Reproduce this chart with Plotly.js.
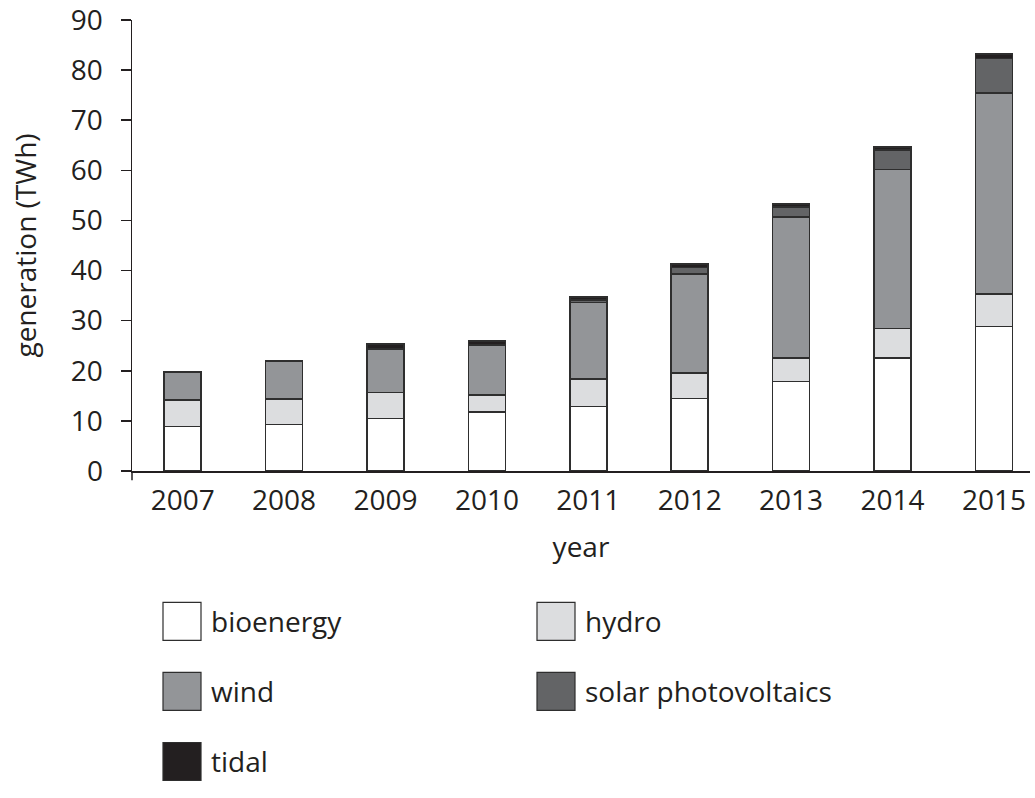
<!DOCTYPE html>
<html>
<head>
<meta charset="utf-8">
<script src="https://cdn.plot.ly/plotly-3.0.1.min.js"></script>
<style>html,body{margin:0;padding:0;background:#fff;}#chart{width:1035px;height:798px;}</style>
</head>
<body>
<div id="chart"></div>
<script>
const years = ['2007','2008','2009','2010','2011','2012','2013','2014','2015'];
const seriesNames = ['bioenergy','hydro','wind','solar photovoltaics','tidal'];
const bioenergy = [8.9, 9.3, 10.5, 11.8, 12.9, 14.5, 17.9, 22.6, 28.8];
const hydro     = [5.3, 5.1, 5.2, 3.4, 5.5, 5.1, 4.7, 5.8, 6.5];
const wind      = [5.5, 7.5, 8.6, 9.9, 15.2, 19.7, 28.1, 31.8, 40.1];
const solar     = [0, 0, 0, 0, 0.5, 1.3, 2.0, 3.8, 6.9];
const tidal     = [0, 0, 1.1, 0.9, 0.6, 0.7, 0.6, 0.6, 0.9];
const yTicks = [0,10,20,30,40,50,60,70,80,90];

const colors = ['#ffffff','#dcdddf','#939598','#636466','#231f20'];
const values = [bioenergy, hydro, wind, solar, tidal];
const ink = '#231f20';
const FONT = 'Open Sans, sans-serif';
const FS = 28;

const traces = values.map((v, i) => ({
  type: 'bar', x: years, y: v.map(d => d === 0 ? null : d), name: seriesNames[i], width: 0.365,
  marker: {color: colors[i], line: {color: '#2e2e2e', width: 1.6}},
  showlegend: false, hoverinfo: 'x+y+name'
}));

// plot-area pixel geometry
const L = 132, R = 1030, T = 20, B = 470.7;
const px = p => (p - L) / (R - L);
const py = p => (B - p) / (B - T);

const shapes = [];
const annotations = [];
const legendPos = [[163, 602], [537, 602], [163, 672], [537, 672], [163, 742]];
seriesNames.forEach((n, i) => {
  const [x0, y0] = legendPos[i];
  shapes.push({type: 'rect', xref: 'paper', yref: 'paper',
    x0: px(x0), x1: px(x0 + 38), y0: py(y0), y1: py(y0 + 38),
    fillcolor: colors[i], line: {color: '#2e2e2e', width: 1.2}});
  annotations.push({xref: 'paper', yref: 'paper', x: px(x0 + 46), y: py(y0 + 19),
    xanchor: 'left', yanchor: 'middle', showarrow: false, text: n,
    font: {family: FONT, size: FS, color: ink}});
});
// y-axis extension below zero
shapes.push({type: 'line', xref: 'paper', yref: 'paper', x0: 0, x1: 0, y0: 0, y1: py(480),
  line: {color: ink, width: 1.5}});

const layout = {
  width: 1035, height: 798,
  margin: {l: L, r: 1035 - R, t: T, b: 798 - B, pad: 0},
  paper_bgcolor: '#fff', plot_bgcolor: '#fff',
  barmode: 'stack', bargap: 0.6,
  font: {family: FONT, size: FS, color: ink},
  xaxis: {
    type: 'category', range: [-0.5, 8.356],
    showline: true, linecolor: ink, linewidth: 1.5,
    ticks: '', showgrid: false, zeroline: false,
    ticklabelstandoff: 4,
    tickfont: {family: FONT, size: FS, color: ink},
    title: {text: 'year', font: {family: FONT, size: FS, color: ink}, standoff: 20},
    fixedrange: true
  },
  yaxis: {
    range: [0, 90], tickvals: yTicks, ticktext: yTicks.map(String),
    showline: true, linecolor: ink, linewidth: 1.5,
    ticks: 'outside', ticklen: 10, tickwidth: 1.5, tickcolor: ink,
    showgrid: false, zeroline: false,
    ticklabelstandoff: 12, ticklabeloverflow: 'allow',
    tickfont: {family: FONT, size: FS, color: ink},
    title: {text: 'generation (TWh)', font: {family: FONT, size: FS, color: ink}, standoff: 26},
    fixedrange: true
  },
  shapes: shapes,
  annotations: annotations
};

Plotly.newPlot('chart', traces, layout, {displayModeBar: false, staticPlot: true});
</script>
</body>
</html>
